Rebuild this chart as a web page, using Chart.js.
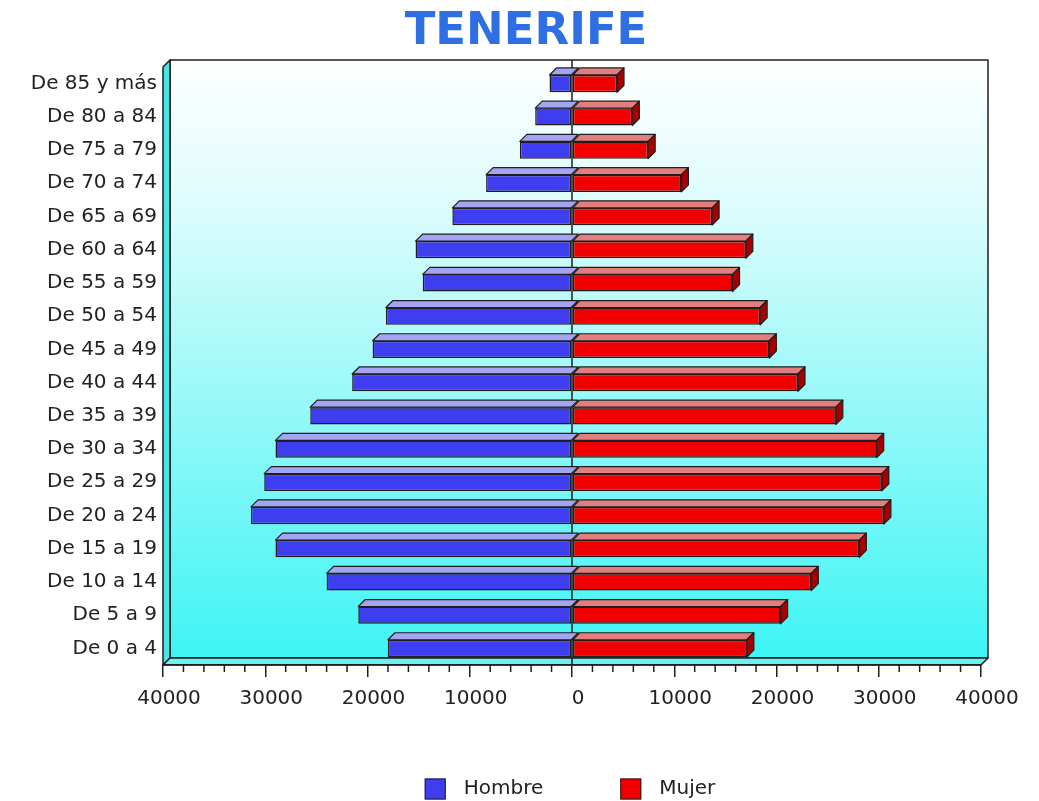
<!DOCTYPE html>
<html>
<head>
<meta charset="utf-8">
<title>Tenerife</title>
<script src="https://cdn.jsdelivr.net/npm/chart.js@4.4.1/dist/chart.umd.min.js"></script>
<style>
    html, body { margin: 0; padding: 0; background: #ffffff; }
</style>
</head>
<body>
<canvas id="myChart" width="1039" height="801"></canvas>
<script>
// age groups, youngest first (the y axis is reversed so 0-4 sits at the bottom)
var ageGroups = ['De 0 a 4', 'De 5 a 9', 'De 10 a 14', 'De 15 a 19', 'De 20 a 24', 'De 25 a 29',
    'De 30 a 34', 'De 35 a 39', 'De 40 a 44', 'De 45 a 49', 'De 50 a 54', 'De 55 a 59',
    'De 60 a 64', 'De 65 a 69', 'De 70 a 74', 'De 75 a 79', 'De 80 a 84', 'De 85 y más'];

var hombre = [18000, 20900, 24000, 29000, 31400, 30100, 29000, 25600, 21500,
    19500, 18200, 14600, 15300, 11700, 8400, 5100, 3600, 2200];

var mujer = [17100, 20400, 23400, 28100, 30500, 30300, 29800, 25800, 22100,
    19300, 18400, 15700, 17000, 13700, 10700, 7450, 5900, 4400];

var xMin = -40000;
var xMax = 40000;
var majorStep = 10000;
var minorStep = 2000;

var DEPTH = 7;
var LINE = '#1e1e1e';
var faces = [
    { top: '#a4a4f2', side: '#2626a0' },   // Hombre
    { top: '#e47e7e', side: '#a80000' }    // Mujer
];

Chart.defaults.font.family = '"DejaVu Sans", sans-serif';
Chart.defaults.color = '#222222';

var pyramid3d = {
    id: 'pyramid3d',
    beforeDraw: function(chart) {
        var ctx = chart.ctx, a = chart.chartArea, d = DEPTH;
        ctx.save();
        ctx.lineWidth = 1.5;
        ctx.strokeStyle = LINE;
        ctx.lineJoin = 'round';

        // back wall with the white -> cyan fade
        var g = ctx.createLinearGradient(0, a.top - d, 0, a.bottom - d);
        g.addColorStop(0, '#ffffff');
        g.addColorStop(0.25, '#dcfcfc');
        g.addColorStop(1, '#3ef4f4');
        ctx.fillStyle = g;
        ctx.fillRect(a.left + d, a.top - d, a.right - a.left, a.bottom - a.top);
        ctx.strokeRect(a.left + d, a.top - d, a.right - a.left, a.bottom - a.top);

        // left wall
        ctx.beginPath();
        ctx.moveTo(a.left, a.top);
        ctx.lineTo(a.left + d, a.top - d);
        ctx.lineTo(a.left + d, a.bottom - d);
        ctx.lineTo(a.left, a.bottom);
        ctx.closePath();
        ctx.fillStyle = '#46e6e6';
        ctx.fill();
        ctx.stroke();

        // floor
        ctx.beginPath();
        ctx.moveTo(a.left, a.bottom);
        ctx.lineTo(a.left + d, a.bottom - d);
        ctx.lineTo(a.right + d, a.bottom - d);
        ctx.lineTo(a.right, a.bottom);
        ctx.closePath();
        ctx.fillStyle = '#6cf0f0';
        ctx.fill();
        ctx.stroke();
        ctx.restore();
    },
    beforeDatasetsDraw: function(chart) {
        var ctx = chart.ctx, a = chart.chartArea;
        var x0 = chart.scales.x.getPixelForValue(0);
        ctx.save();
        ctx.strokeStyle = LINE;
        ctx.lineWidth = 1.5;
        ctx.beginPath();
        ctx.moveTo(x0, a.top - DEPTH);
        ctx.lineTo(x0, a.bottom);
        ctx.stroke();
        ctx.restore();
    },
    afterDatasetsDraw: function(chart) {
        var ctx = chart.ctx, d = DEPTH;
        ctx.save();
        ctx.lineWidth = 1.2;
        ctx.strokeStyle = LINE;
        ctx.lineJoin = 'round';
        chart.data.datasets.forEach(function(ds, i) {
            var meta = chart.getDatasetMeta(i);
            meta.data.forEach(function(bar) {
                var p = bar.getProps(['x', 'y', 'base', 'height'], true);
                var left = Math.min(p.x, p.base);
                var right = Math.max(p.x, p.base);
                var top = p.y - p.height / 2;
                var bottom = p.y + p.height / 2;

                // top face
                ctx.beginPath();
                ctx.moveTo(left, top);
                ctx.lineTo(left + d, top - d);
                ctx.lineTo(right + d, top - d);
                ctx.lineTo(right, top);
                ctx.closePath();
                ctx.fillStyle = faces[i].top;
                ctx.fill();
                ctx.stroke();

                // right side face, only visible on the positive side
                if (p.x > p.base) {
                    ctx.beginPath();
                    ctx.moveTo(right, top);
                    ctx.lineTo(right + d, top - d);
                    ctx.lineTo(right + d, bottom - d);
                    ctx.lineTo(right, bottom);
                    ctx.closePath();
                    ctx.fillStyle = faces[i].side;
                    ctx.fill();
                    ctx.stroke();
                }
            });
        });
        ctx.restore();
    },
    afterDraw: function(chart) {
        var ctx = chart.ctx, a = chart.chartArea;
        var xs = chart.scales.x;
        ctx.save();

        // minor ticks under the floor
        ctx.strokeStyle = LINE;
        ctx.lineWidth = 1.5;
        for (var v = xMin; v <= xMax; v += minorStep) {
            if (v % majorStep === 0) continue;
            var px = xs.getPixelForValue(v);
            ctx.beginPath();
            ctx.moveTo(px, a.bottom);
            ctx.lineTo(px, a.bottom + 7);
            ctx.stroke();
        }

        // legend
        ctx.font = '20px "DejaVu Sans"';
        ctx.textBaseline = 'middle';
        ctx.textAlign = 'left';
        var box = 21, gap = 18, spacing = 77;
        var total = 0;
        chart.data.datasets.forEach(function(ds, i) {
            total += box + gap + ctx.measureText(ds.label).width + (i ? spacing : 0);
        });
        var x = (a.left + a.right) / 2 - total / 2 - 2;
        var y = chart.height - 12;
        chart.data.datasets.forEach(function(ds) {
            ctx.fillStyle = ds.backgroundColor;
            ctx.fillRect(x, y - box / 2, box, box);
            ctx.lineWidth = 1;
            ctx.strokeStyle = LINE;
            ctx.strokeRect(x + 0.5, y - box / 2 + 0.5, box - 1, box - 1);
            x += box + gap;
            ctx.fillStyle = '#222222';
            ctx.fillText(ds.label, x, y);
            x += ctx.measureText(ds.label).width + spacing;
        });
        ctx.restore();
    }
};

var ctx = document.getElementById('myChart').getContext('2d');
var myChart = new Chart(ctx, {
    type: 'bar',
    data: {
        labels: ageGroups,
        datasets: [
            {
                label: 'Hombre',
                data: hombre.map(function(v) { return -v; }),
                backgroundColor: '#3e3ef0',
                borderColor: LINE,
                borderWidth: 1.5,
                borderSkipped: false
            },
            {
                label: 'Mujer',
                data: mujer,
                backgroundColor: '#f00000',
                borderColor: LINE,
                borderWidth: 1.5,
                borderSkipped: false
            }
        ]
    },
    options: {
        indexAxis: 'y',
        responsive: false,
        animation: false,
        barPercentage: 0.52,
        categoryPercentage: 1.0,
        layout: {
            padding: { left: 13, right: 0, top: 0, bottom: 0 }
        },
        scales: {
            x: {
                type: 'linear',
                position: 'bottom',
                stacked: true,
                min: xMin,
                max: xMax,
                grid: {
                    display: true,
                    drawOnChartArea: false,
                    drawTicks: true,
                    tickLength: 12,
                    color: LINE,
                    lineWidth: 1.5
                },
                border: { display: true, color: LINE, width: 1.5 },
                ticks: {
                    stepSize: majorStep,
                    autoSkip: false,
                    maxRotation: 0,
                    padding: 10,
                    labelOffset: 6,
                    color: '#222222',
                    font: { size: 20 }
                    ,callback: function(value) { return String(Math.abs(value)); }
                },
                afterFit: function(scale) { scale.height = 136; }
            },
            y: {
                type: 'category',
                stacked: true,
                reverse: true,
                grid: { display: false, drawTicks: false },
                border: { display: false },
                ticks: {
                    autoSkip: false,
                    padding: 6,
                    color: '#222222',
                    font: { size: 20 }
                },
                afterFit: function(scale) { scale.width = 150; }
            },
            // empty strip on the right so the title centres like the original
            yRight: {
                type: 'category',
                position: 'right',
                grid: { display: false, drawTicks: false },
                border: { display: false },
                ticks: { display: false },
                afterFit: function(scale) { scale.width = 58; }
            }
        },
        plugins: {
            legend: { display: false },
            tooltip: { enabled: false },
            title: {
                display: true,
                text: 'TENERIFE',
                color: '#2f6fe4',
                font: { size: 45, weight: 'bold' },
                padding: { top: 5, bottom: 8 }
            }
        }
    },
    plugins: [pyramid3d]
});
</script>
</body>
</html>
